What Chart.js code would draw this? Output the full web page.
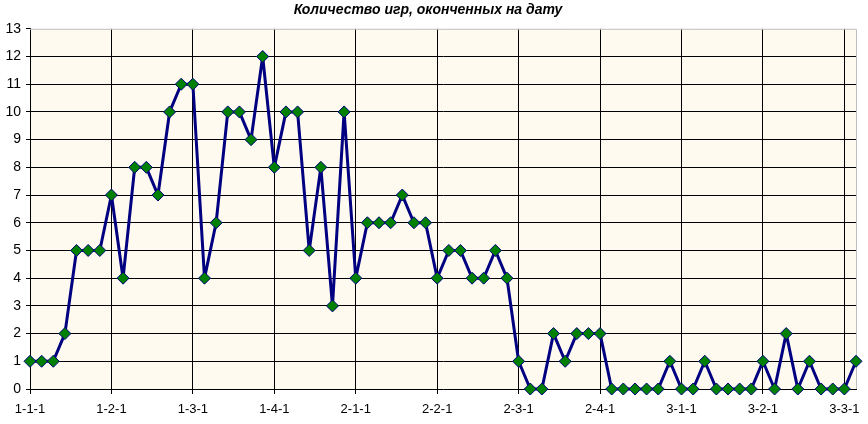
<!DOCTYPE html>
<html>
<head>
<meta charset="utf-8">
<script src="https://cdn.jsdelivr.net/npm/chart.js@4/dist/chart.umd.min.js"></script>
<style>
  html, body { margin: 0; padding: 0; background: #fff; }
  #wrap { width: 868px; height: 424px; }
</style>
</head>
<body>
<div id="wrap"><canvas id="grafico" width="868" height="424"></canvas></div>
<script>
// даты: месяц-неделя-день
const meses = [1, 2, 3];
const semanas = [1, 2, 3, 4];
const dias = [1, 2, 3, 4, 5, 6, 7];
const totalPuntos = 72;

const fechas = [];
meses.forEach(m => semanas.forEach(s => dias.forEach(d => fechas.push(m + '-' + s + '-' + d))));
fechas.length = totalPuntos;

const partidas = [
  1, 1, 1, 2, 5, 5, 5,
  7, 4, 8, 8, 7, 10, 11,
  11, 4, 6, 10, 10, 9, 12,
  8, 10, 10, 5, 8, 3, 10,
  4, 6, 6, 6, 7, 6, 6,
  4, 5, 5, 4, 4, 5, 4,
  1, 0, 0, 2, 1, 2, 2,
  2, 0, 0, 0, 0, 0, 1,
  0, 0, 1, 0, 0, 0, 0,
  1, 0, 2, 0, 1, 0, 0,
  0, 1
];

const yMax = 13;

const fondo = {
  id: 'fondo',
  beforeDraw(chart) {
    const { ctx, chartArea: a } = chart;
    ctx.save();
    ctx.fillStyle = '#FFFAEF';
    ctx.fillRect(a.left, a.top, a.right - a.left, a.bottom - a.top);
    ctx.restore();
  },
  beforeDatasetsDraw(chart) {
    const { ctx, chartArea: a } = chart;
    ctx.save();
    ctx.strokeStyle = '#C0C0C0';
    ctx.lineWidth = 1;
    ctx.beginPath();
    ctx.moveTo(a.left, a.top + 0.5);
    ctx.lineTo(a.right + 0.5, a.top + 0.5);
    ctx.lineTo(a.right + 0.5, a.bottom);
    ctx.stroke();
    ctx.restore();
  }
};

new Chart(document.getElementById('grafico'), {
  type: 'line',
  data: {
    labels: fechas,
    datasets: [{
      data: partidas,
      borderColor: '#000080',
      borderWidth: 3,
      borderJoinStyle: 'round',
      tension: 0,
      pointStyle: 'rectRot',
      pointRadius: 6,
      pointHoverRadius: 6,
      pointBackgroundColor: '#008000',
      pointBorderColor: '#000080',
      pointBorderWidth: 1,
      clip: false
    }]
  },
  options: {
    responsive: false,
    animation: false,
    layout: { padding: { left: 0, right: 12, top: 0, bottom: 0 } },
    plugins: {
      legend: { display: false },
      tooltip: { enabled: false },
      title: {
        display: true,
        text: 'Количество игр, оконченных на дату',
        color: '#000',
        font: { family: 'Liberation Sans', size: 14, weight: 'bold', style: 'italic' },
        padding: { top: 2, bottom: 10 }
      }
    },
    scales: {
      x: {
        offset: false,
        afterFit: s => { s.height = 35; },
        grid: {
          color: c => (c.index % 7 === 0 && c.index > 0) ? '#000' : 'transparent',
          tickColor: c => (c.index % 7 === 0) ? '#000' : 'transparent',
          tickLength: 5,
          lineWidth: 1
        },
        border: { color: '#000', width: 1 },
        ticks: {
          autoSkip: false,
          maxRotation: 0,
          padding: 8,
          color: '#000',
          font: { family: 'Liberation Sans', size: 13 },
          callback: (v, i) => (i % 7 === 0 ? fechas[i] : '')
        }
      },
      y: {
        min: 0,
        max: yMax,
        afterFit: s => { s.width = 30; },
        grid: {
          color: c => (c.tick.value > 0 && c.tick.value < yMax) ? '#000' : 'transparent',
          tickColor: '#000',
          tickLength: 4,
          lineWidth: 1
        },
        border: { color: '#000', width: 1 },
        ticks: {
          stepSize: 1,
          padding: 5,
          color: '#000',
          font: { family: 'Liberation Sans', size: 14 }
        }
      }
    }
  },
  plugins: [fondo]
});
</script>
</body>
</html>
